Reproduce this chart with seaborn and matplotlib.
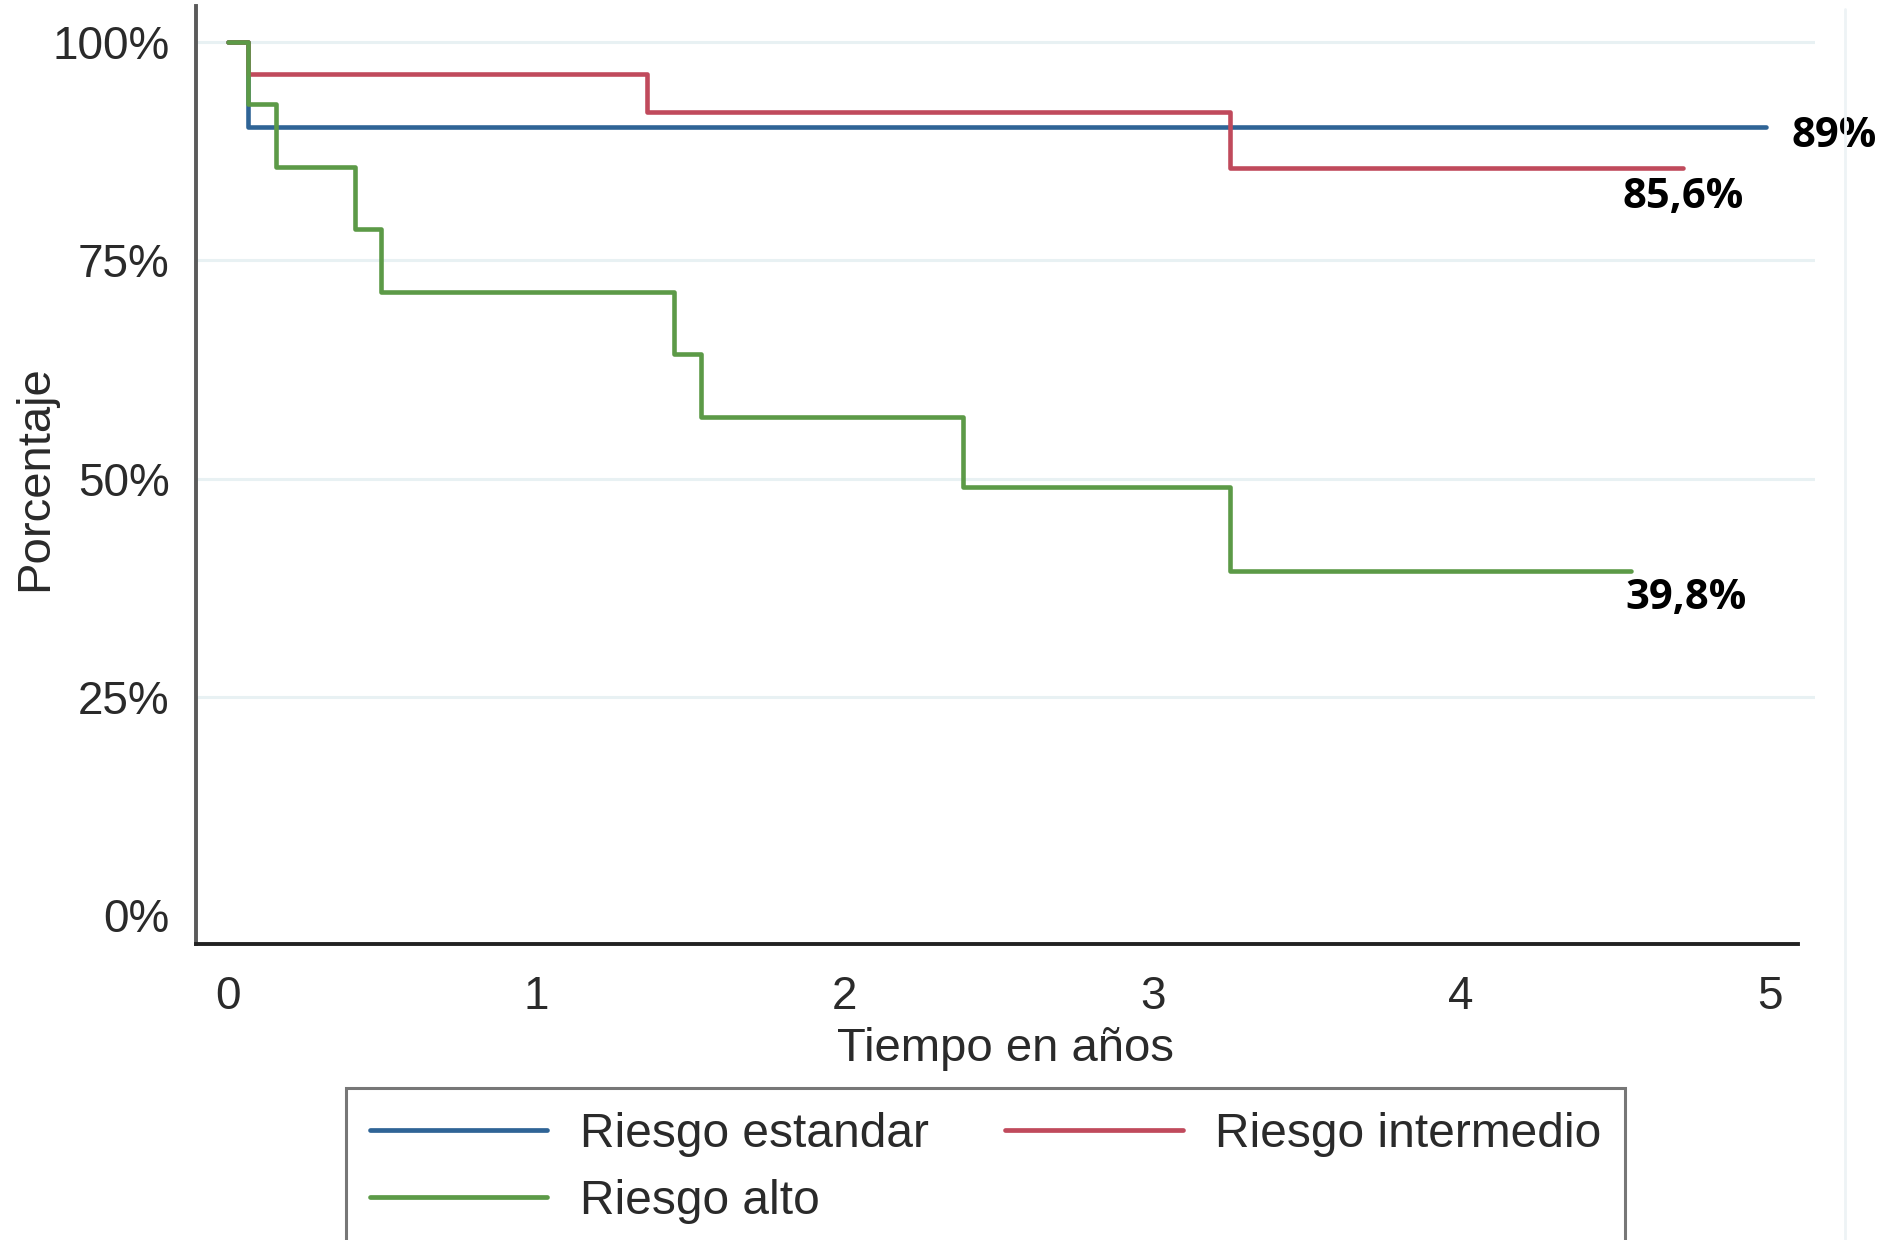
import matplotlib
matplotlib.use("Agg")
import matplotlib.pyplot as plt
from matplotlib.lines import Line2D
from matplotlib.ticker import FuncFormatter
import pandas as pd
import seaborn as sns

# Kaplan-Meier style curves (time in years, survival in %)
groups = ["Riesgo estandar", "Riesgo intermedio", "Riesgo alto"]
colors = ["#2f6496", "#c04a5c", "#5c9a47"]

estandar_t = [0.0, 0.065, 4.99]
estandar_s = [100.0, 90.2, 90.2]

intermedio_t = [0.0, 0.065, 1.36, 3.25, 4.72]
intermedio_s = [100.0, 96.3, 92.0, 85.6, 85.6]

alto_t = [0.0, 0.065, 0.156, 0.414, 0.496, 1.446, 1.536, 2.385, 3.252, 4.55]
alto_s = [100.0, 92.9, 85.7, 78.6, 71.4, 64.3, 57.1, 49.0, 39.4, 39.4]

end_labels = ["89%", "85,6%", "39,8%"]
end_label_x = [5.21, 4.72, 4.73]
end_label_y = [89.1, 82.2, 36.3]

y_ticks = [0, 25, 50, 75, 100]
x_ticks = [0, 1, 2, 3, 4, 5]

frames = []
for name, t, s in [
    (groups[0], estandar_t, estandar_s),
    (groups[1], intermedio_t, intermedio_s),
    (groups[2], alto_t, alto_s),
]:
    frames.append(pd.DataFrame({"tiempo": t, "pct": s, "grupo": name}))
df = pd.concat(frames, ignore_index=True)

sns.set_theme(style="white")
plt.rcParams["font.family"] = ["Liberation Sans", "DejaVu Sans"]

fig = plt.figure(figsize=(18.86, 12.4), dpi=100)
ax = fig.add_axes([0.1039, 0.2387, 0.8585, 0.7565])

for g in y_ticks[1:]:
    ax.axhline(g, color="#e8f1f3", lw=2.2, zorder=0)

sns.lineplot(
    data=df, x="tiempo", y="pct", hue="grupo", hue_order=groups,
    palette=colors, estimator=None, drawstyle="steps-post",
    lw=3.3, legend=False, ax=ax,
)

ax.set_xlim(-0.103, 5.148)
ax.set_ylim(-3.28, 104.1)
ax.set_xticks(x_ticks)
ax.set_yticks(y_ticks)
ax.yaxis.set_major_formatter(FuncFormatter(lambda v, _: f"{v:.0f}%"))

for side in ["top", "right"]:
    ax.spines[side].set_visible(False)
ax.spines["bottom"].set_bounds(-0.103, 5.094)
ax.spines["bottom"].set_color("#222222")
ax.spines["bottom"].set_linewidth(2.8)
ax.spines["left"].set_color("#5a5a5a")
ax.spines["left"].set_linewidth(2.8)

ax.tick_params(axis="both", direction="out", length=13, width=2.2,
               colors="#333333", labelcolor="#2a2a2a", labelsize=33)
ax.tick_params(axis="y", pad=6)
ax.tick_params(axis="x", pad=9)

ax.set_xlabel("Tiempo en años", fontsize=34, color="#2a2a2a", labelpad=6)
ax.set_ylabel("Porcentaje", fontsize=34, color="#2a2a2a")
ax.yaxis.set_label_coords(-0.086, 0.497)

for txt, x, y in zip(end_labels, end_label_x, end_label_y):
    ax.text(x, y, txt, ha="center", va="center", fontsize=30,
            fontweight="bold", family=["Open Sans", "DejaVu Sans"],
            color="black", clip_on=False)

# faint outer border line on the right
fig.add_artist(Line2D([0.978, 0.978], [0.0, 0.993], color="#eef3f5", lw=2))

# legend fills column-wise, so reorder to get estandar | intermedio on row one
leg_order = [0, 2, 1]
handles = [Line2D([], [], color=colors[i], lw=3.4) for i in leg_order]
labels = [groups[i] for i in leg_order]
leg = fig.legend(
    handles, labels, ncol=2, loc="upper left",
    bbox_to_anchor=(346 / 1886, 1 - 1088 / 1240),
    fontsize=34.5, frameon=True, fancybox=False, handlelength=3.7,
    handletextpad=0.68, columnspacing=1.6, labelspacing=0.45,
    borderpad=0.5, borderaxespad=0,
)
leg.get_frame().set_edgecolor("#555555")
leg.get_frame().set_linewidth(2.2)
for t in leg.get_texts():
    t.set_color("#2a2a2a")

fig.savefig("out.png", dpi=100)
